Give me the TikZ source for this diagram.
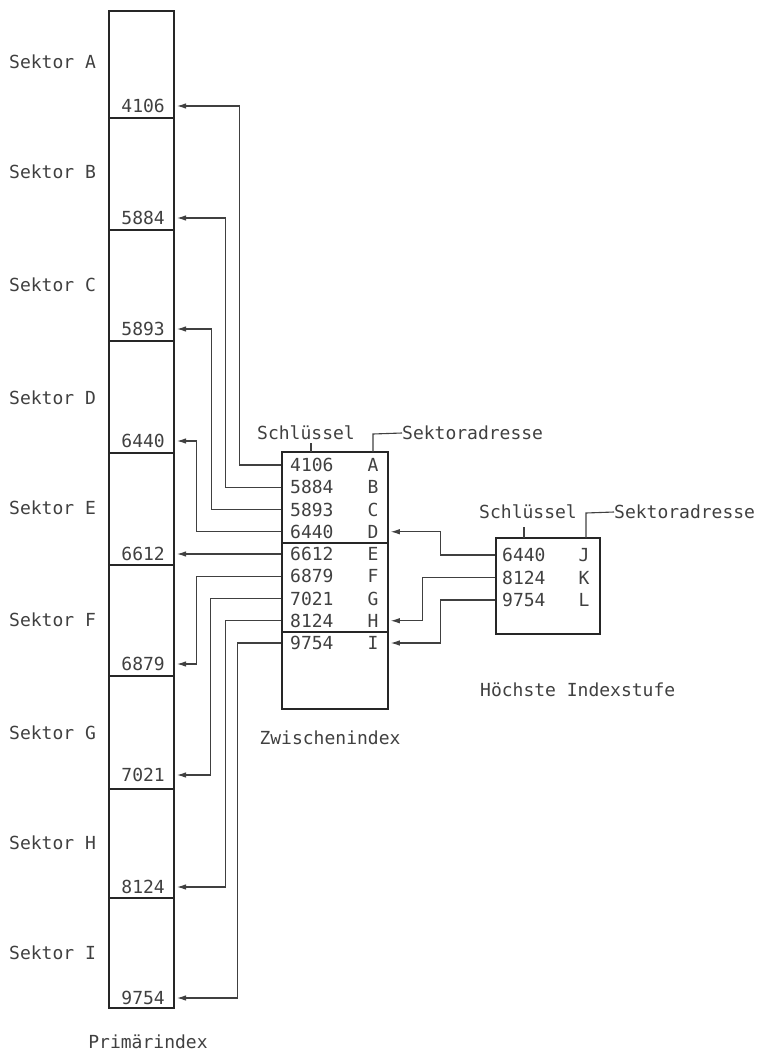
\documentclass[tikz,border=0pt]{standalone}
\usepackage{fontspec}
\newfontfamily\diafont{DejaVu Sans Mono}
\usetikzlibrary{arrows.meta}
\begin{document}
\begin{tikzpicture}[x=1pt,y=-1pt,
  box/.style={draw=black!85, line width=1.5pt, inner sep=0pt},
  divider/.style={draw=black!85, line width=1.5pt},
  conn/.style={draw=black!75, line width=1.1pt},
  arr/.style={conn, -{Latex[length=9pt,width=5.5pt]}},
  txt/.style={font=\diafont\fontsize{18}{18}\selectfont, text=black!75, inner sep=0pt},
]
\useasboundingbox (0,0) rectangle (763,1051);

% ---------- Primaerindex (left column) ----------
\foreach \s/\tp/\bt/\num/\ny/\ly in {A/11/118/4106/106/62, B/118/230/5884/218/172, C/230/341/5893/329/285, D/341/453/6440/441/398, E/453/565/6612/554/508, F/565/676/6879/664/620, G/676/789/7021/775/733, H/789/898/8124/887/843, I/898/1008/9754/998/953}{
  \pgfmathsetmacro{\md}{(\tp+\bt)/2}
  \pgfmathsetmacro{\hh}{\bt-\tp}
  \node[box, minimum width=65pt, minimum height=\hh pt] (sec\s) at (141.5,\md) {};
  \node[txt, anchor=east] (p\num) at (165,\ny) {\num};
  \coordinate (t\s) at (177,\ny);
  \node[txt, anchor=west] (lab\s) at (9,\ly) {Sektor \s};
}
\node[txt] (prim) at (148,1042) {Primärindex};

% ---------- Zwischenindex (middle box) ----------
\node[box, minimum width=106pt, minimum height=257pt] (zw) at (335,580.5) {};
\draw[divider] (zw.west |- 0,543) -- (zw.east |- 0,543);
\draw[divider] (zw.west |- 0,632) -- (zw.east |- 0,632);
\foreach \i/\num/\lt in {0/4106/A,1/5884/B,2/5893/C,3/6440/D,4/6612/E,5/6879/F,6/7021/G,7/8124/H,8/9754/I}{
  \pgfmathsetmacro{\ry}{465+22.25*\i}
  \node[txt, anchor=west] (z\num) at (290,\ry) {\num};
  \node[txt] (zl\lt) at (373,\ry) {\lt};
}
\node[txt] (zwlab) at (330,738) {Zwischenindex};
\node[txt] (zkey) at (306,433) {Schlüssel};
\node[txt, anchor=west] (zadr) at (402,433) {Sektoradresse};
\draw[conn] (311,452) -- (311,443);
\draw[conn] (373,452) -- (373,434) -- (zadr.west);

% connectors middle -> left
\draw[arr] (zw.west |- z4106) -- ++(-42,0) |- (tA);
\draw[arr] (zw.west |- z5884) -- ++(-56,0) |- (tB);
\draw[arr] (zw.west |- z5893) -- ++(-70,0) |- (tC);
\draw[arr] (zw.west |- z6440) -- ++(-85,0) |- (tD);
\draw[arr] (zw.west |- z6612) -- (tE);
\draw[arr] (zw.west |- z6879) -- ++(-85,0) |- (tF);
\draw[arr] (zw.west |- z7021) -- ++(-71,0) |- (tG);
\draw[arr] (zw.west |- z8124) -- ++(-56,0) |- (tH);
\draw[arr] (zw.west |- z9754) -- ++(-44,0) |- (tI);

% ---------- Hoechste Indexstufe (right box) ----------
\node[box, minimum width=104pt, minimum height=96pt] (hb) at (548,586) {};
\foreach \i/\num/\lt in {0/6440/J,1/8124/K,2/9754/L}{
  \pgfmathsetmacro{\ry}{555+22.5*\i}
  \node[txt, anchor=west] (h\num) at (502,\ry) {\num};
  \node[txt] (hl\lt) at (584,\ry) {\lt};
}
\node[txt, anchor=west] (hlab) at (480,690) {Höchste Indexstufe};
\node[txt] (hkey) at (528,512) {Schlüssel};
\node[txt, anchor=west] (hadr) at (614,512) {Sektoradresse};
\draw[conn] (524,538) -- (524,527);
\draw[conn] (586,538) -- (586,513) -- (hadr.west);

% connectors right -> middle
\draw[arr] (hb.west |- h6440) -- ++(-55,0) |- ([xshift=2pt]zw.east |- zlD);
\draw[arr] (hb.west |- h8124) -- ++(-73,0) |- ([xshift=2pt]zw.east |- zlH);
\draw[arr] (hb.west |- h9754) -- ++(-55,0) |- ([xshift=2pt]zw.east |- zlI);
\end{tikzpicture}
\end{document}
